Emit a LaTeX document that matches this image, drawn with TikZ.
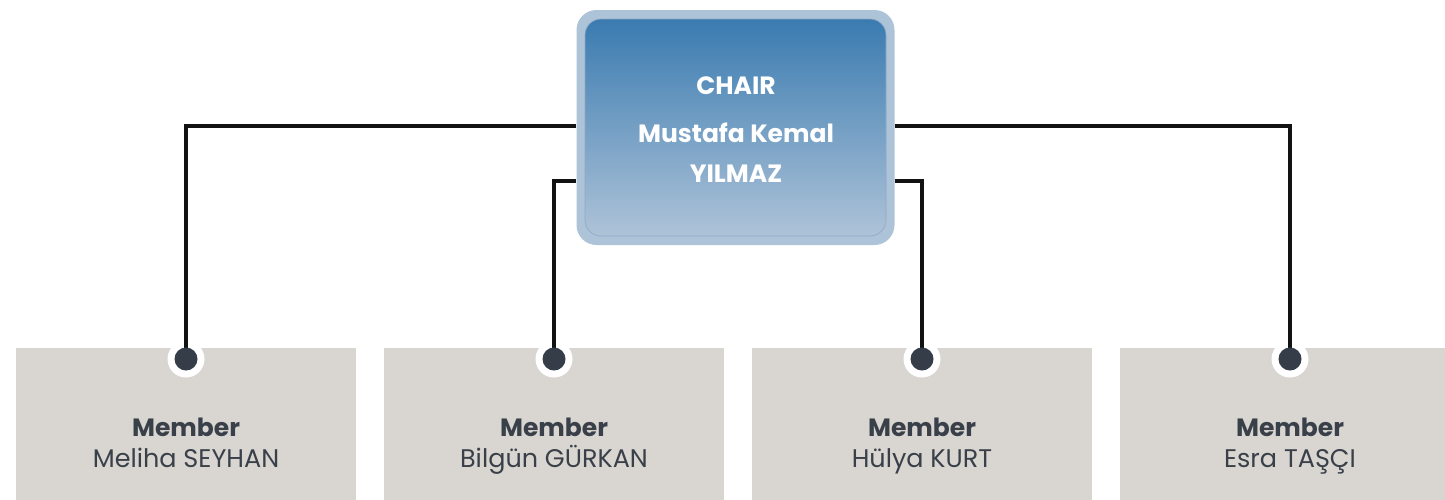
\documentclass[tikz,border=0pt]{standalone}
\usepackage{fontspec}
\setmainfont{Poppins}
\definecolor{outerblue}{HTML}{ADC3D8}
\definecolor{topblue}{HTML}{3A7BB0}
\definecolor{botblue}{HTML}{AEC3D8}
\definecolor{innerline}{HTML}{8FA8C6}
\definecolor{membox}{HTML}{D9D6D1}
\definecolor{dark}{HTML}{353D48}
\definecolor{memtext}{HTML}{3A4049}
\begin{document}
\begin{tikzpicture}[x=1pt,y=-1pt,
  chairouter/.style={rectangle, rounded corners=20pt, fill=outerblue, minimum width=318pt, minimum height=235pt, inner sep=0pt},
  chairinner/.style={rectangle, rounded corners=16pt, top color=topblue, bottom color=botblue, draw=innerline, line width=0.6pt, minimum width=301pt, minimum height=217pt, inner sep=0pt},
  chairtext/.style={text=white, font=\fontsize{25}{30}\selectfont\bfseries, anchor=base, inner sep=0pt},
  member/.style={rectangle, fill=membox, minimum width=340pt, minimum height=190pt, inner sep=0pt},
  memhead/.style={text=memtext, font=\fontsize{25}{30}\selectfont\bfseries, anchor=base, inner sep=0pt},
  memname/.style={text=memtext, font=\fontsize{25.5}{30}\selectfont, anchor=base, inner sep=0pt},
  ring/.style={circle, fill=white, minimum size=37pt, inner sep=0pt},
  dot/.style={circle, fill=dark, minimum size=23pt, inner sep=0pt},
  conn/.style={line width=3.6pt, draw=black!93}
]
\useasboundingbox (0,0) rectangle (1445,499);
\clip (0,0) rectangle (1445,499);

% member boxes
\node[member] (m1) at (186,443) {};
\node[member] (m2) at (554,443) {};
\node[member] (m3) at (922,443) {};
\node[member] (m4) at (1290,443) {};

\node[memhead] (h1) at (186,436) {Member};
\node[memhead] (h2) at (554,436) {Member};
\node[memhead] (h3) at (922,436) {Member};
\node[memhead] (h4) at (1290,436) {Member};
\node[memname] (n1) at (186,467) {Meliha SEYHAN};
\node[memname] (n2) at (554,467) {Bilgün GÜRKAN};
\node[memname] (n3) at (922,467) {Hülya KURT};
\node[memname] (n4) at (1290,467) {Esra TAŞÇI};

% rings
\node[ring] (r1) at (186,359) {};
\node[ring] (r2) at (554,359) {};
\node[ring] (r3) at (922,359) {};
\node[ring] (r4) at (1290,359) {};

% chair
\node[chairouter] (chairo) at (735.5,127.5) {};
\node[chairinner] (chair) at (735.5,127.5) {};
\node[chairtext] (c1) at (736,94) {CHAIR};
\node[chairtext] (c2) at (736,142) {Mustafa Kemal};
\node[chairtext] (c3) at (736,182) {YILMAZ};

% connectors
\coordinate (hA) at (0,126);
\coordinate (hB) at (0,181);
\draw[conn] (chairo.west |- hA) -| (r1.center);
\draw[conn] (chairo.west |- hB) -| (r2.center);
\draw[conn] (chairo.east |- hB) -| (r3.center);
\draw[conn] (chairo.east |- hA) -| (r4.center);

% dots
\node[dot] (d1) at (r1) {};
\node[dot] (d2) at (r2) {};
\node[dot] (d3) at (r3) {};
\node[dot] (d4) at (r4) {};
\end{tikzpicture}
\end{document}
